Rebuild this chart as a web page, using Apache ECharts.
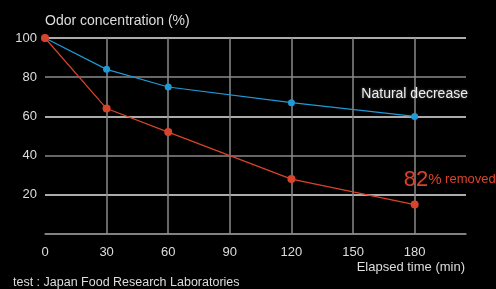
<!DOCTYPE html>
<html>
<head>
<meta charset="utf-8">
<script src="https://cdn.jsdelivr.net/npm/echarts@6/dist/echarts.min.js"></script>
<style>
  html, body { margin: 0; padding: 0; background: #000; }
  #chart { width: 496px; height: 289px; }
</style>
</head>
<body>
<div id="chart"></div>
<script>
const minutes = [0, 30, 60, 120, 180]
const naturalDecrease = [100, 84, 75, 67, 60]
const withProduct = [100, 64, 52, 28, 15]
const xTicks = [0, 30, 60, 90, 120, 150, 180]

const font = '"Liberation Sans", Arial, sans-serif'
const chart = echarts.init(document.getElementById('chart'))

chart.setOption({
  backgroundColor: '#000',
  animation: false,
  grid: { left: 45, right: 30, top: 38, bottom: 55 },
  xAxis: {
    type: 'value',
    min: 0,
    max: 205,
    interval: 30,
    axisLine: { lineStyle: { color: '#8a8a8a', width: 1.5 } },
    axisTick: { show: false },
    axisLabel: {
      color: '#ddd',
      fontSize: 13,
      fontFamily: font,
      margin: 12,
      formatter: (v) => (xTicks.includes(v) ? String(v) : '')
    },
    splitLine: {
      lineStyle: { color: '#8a8a8a', width: 1.5 },
      showMinLine: false,
      showMaxLine: false
    }
  },
  yAxis: {
    type: 'value',
    min: 0,
    max: 100,
    interval: 20,
    axisLine: { show: false },
    axisTick: { show: false },
    axisLabel: {
      color: '#ddd',
      fontSize: 13,
      fontFamily: font,
      margin: 8,
      formatter: (v) => (v === 0 ? '' : String(v))
    },
    splitLine: { lineStyle: { color: ['#8a8a8a', '#e6e6e6'], width: 1.5 } }
  },
  series: [
    {
      name: 'Natural decrease',
      type: 'line',
      data: minutes.map((m, i) => [m, naturalDecrease[i]]),
      symbol: 'circle',
      symbolSize: 7,
      lineStyle: { color: '#1e9ad6', width: 1.2 },
      itemStyle: { color: '#1e9ad6' },
      label: {
        show: true,
        formatter: (p) => (p.dataIndex === minutes.length - 1 ? 'Natural decrease' : ''),
        position: 'top',
        offset: [0, -7],
        color: '#eee',
        fontSize: 14,
        fontFamily: font,
        textShadowColor: 'rgba(255,255,255,0.4)',
        textShadowBlur: 3
      },
      z: 2
    },
    {
      name: 'Removed',
      type: 'line',
      data: minutes.map((m, i) => [m, withProduct[i]]),
      symbol: 'circle',
      symbolSize: 8,
      lineStyle: { color: '#d9432c', width: 1.2 },
      itemStyle: { color: '#d9432c' },
      label: {
        show: true,
        formatter: (p) => (p.dataIndex === minutes.length - 1 ? '{big|82}{pct|%}{sm| removed}' : ''),
        position: 'top',
        offset: [35, -5],
        rich: {
          big: { color: '#d9432c', fontSize: 22, fontFamily: font },
          pct: { color: '#d9432c', fontSize: 15, fontFamily: font },
          sm: { color: '#d9432c', fontSize: 13, fontFamily: font }
        }
      },
      z: 3
    }
  ],
  graphic: [
    {
      type: 'text',
      left: 45,
      top: 14,
      style: { text: 'Odor concentration (%)', fill: '#ddd', fontSize: 14, fontFamily: font }
    },
    {
      type: 'text',
      right: 31,
      top: 261,
      style: { text: 'Elapsed time (min)', fill: '#ddd', fontSize: 13, fontFamily: font }
    },
    {
      type: 'text',
      left: 13,
      top: 276,
      style: { text: 'test : Japan Food Research Laboratories', fill: '#ddd', fontSize: 12.5, fontFamily: font }
    }
  ]
})
</script>
</body>
</html>
